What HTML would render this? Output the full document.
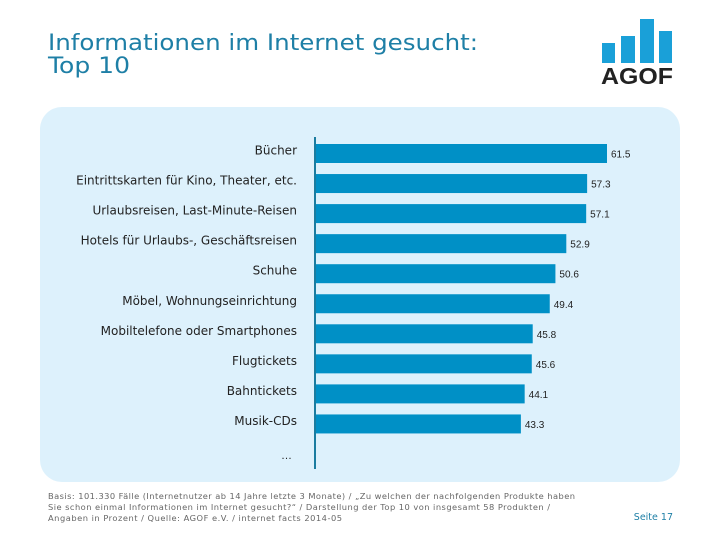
<!DOCTYPE html>
<html><head><meta charset="utf-8"><style>
body{margin:0;width:720px;height:540px;background:#fff;overflow:hidden;font-family:"Liberation Sans","DejaVu Sans",sans-serif}
</style></head><body>
<svg width="720" height="540" xmlns="http://www.w3.org/2000/svg">
<text x="48" y="50" font-family="DejaVu Sans, sans-serif" font-size="22.5" fill="#1e7fa6" textLength="430" lengthAdjust="spacingAndGlyphs">Informationen im Internet gesucht:</text>
<text x="48" y="73" font-family="DejaVu Sans, sans-serif" font-size="22.5" fill="#1e7fa6" textLength="82" lengthAdjust="spacingAndGlyphs">Top 10</text>
<g>
<rect x="602" y="43" width="13" height="20" fill="#1aa0d8"/>
<rect x="621" y="36" width="14" height="27" fill="#1aa0d8"/>
<rect x="640" y="19" width="14" height="44" fill="#1aa0d8"/>
<rect x="659" y="31" width="13" height="32" fill="#1aa0d8"/>
<text x="601" y="84" font-size="23" font-weight="bold" fill="#222" textLength="72" lengthAdjust="spacingAndGlyphs">AGOF</text>
</g>
<rect x="40" y="107" width="640" height="375" rx="22" fill="#ddf1fc"/>
<g id="bars"></g>
<line x1="315" y1="137" x2="315" y2="469" stroke="#1a7ca0" stroke-width="2"/>
<text x="292" y="459" text-anchor="end" font-size="11" fill="#222">…</text>
<g font-family="DejaVu Sans, sans-serif" font-size="8.3" fill="#666">
<text x="48" y="499" textLength="527" lengthAdjust="spacing">Basis: 101.330 Fälle (Internetnutzer ab 14 Jahre letzte 3 Monate) / „Zu welchen der nachfolgenden Produkte haben</text>
<text x="48" y="510" textLength="502" lengthAdjust="spacing">Sie schon einmal Informationen im Internet gesucht?“ / Darstellung der Top 10 von insgesamt 58 Produkten /</text>
<text x="48" y="521" textLength="294" lengthAdjust="spacing">Angaben in Prozent / Quelle: AGOF e.V. / internet facts 2014-05</text>
</g>
<text x="673" y="520" text-anchor="end" font-family="DejaVu Sans, sans-serif" font-size="9.5" fill="#1e7fa6">Seite 17</text>
</svg>
<script>
const categories=["Bücher","Eintrittskarten für Kino, Theater, etc.","Urlaubsreisen, Last-Minute-Reisen","Hotels für Urlaubs-, Geschäftsreisen","Schuhe","Möbel, Wohnungseinrichtung","Mobiltelefone oder Smartphones","Flugtickets","Bahntickets","Musik-CDs"];
const values=[61.5,57.3,57.1,52.9,50.6,49.4,45.8,45.6,44.1,43.3];
const valueLabels=["61.5","57.3","57.1","52.9","50.6","49.4","45.8","45.6","44.1","43.3"];
const NS="http://www.w3.org/2000/svg";
const x0=316, pxPer=291/61.5;
const xs=v=>x0+v*pxPer;
const yTop=i=>144+i*30.05;
const bh=19;
const g=document.getElementById('bars');
categories.forEach((c,i)=>{
  const r=document.createElementNS(NS,'rect');
  r.setAttribute('x',x0);r.setAttribute('y',yTop(i));
  r.setAttribute('width',xs(values[i])-x0);r.setAttribute('height',bh);
  r.setAttribute('fill','#0090c6');
  
  
  g.appendChild(r);
  const t=document.createElementNS(NS,'text');
  t.setAttribute('x',297);t.setAttribute('y',yTop(i)+bh/2+1);
  t.setAttribute('text-anchor','end');t.setAttribute('font-size','12');t.setAttribute('fill','#222');
  t.setAttribute('font-family','DejaVu Sans, sans-serif');
  t.textContent=c;
  
  
  g.appendChild(t);
  const v=document.createElementNS(NS,'text');
  v.setAttribute('x',xs(values[i])+4);v.setAttribute('y',yTop(i)+bh/2+4);
  v.setAttribute('font-size','10');v.setAttribute('fill','#222');
  v.textContent=valueLabels[i];
  
  
  g.appendChild(v);
});
</script>
</body></html>
